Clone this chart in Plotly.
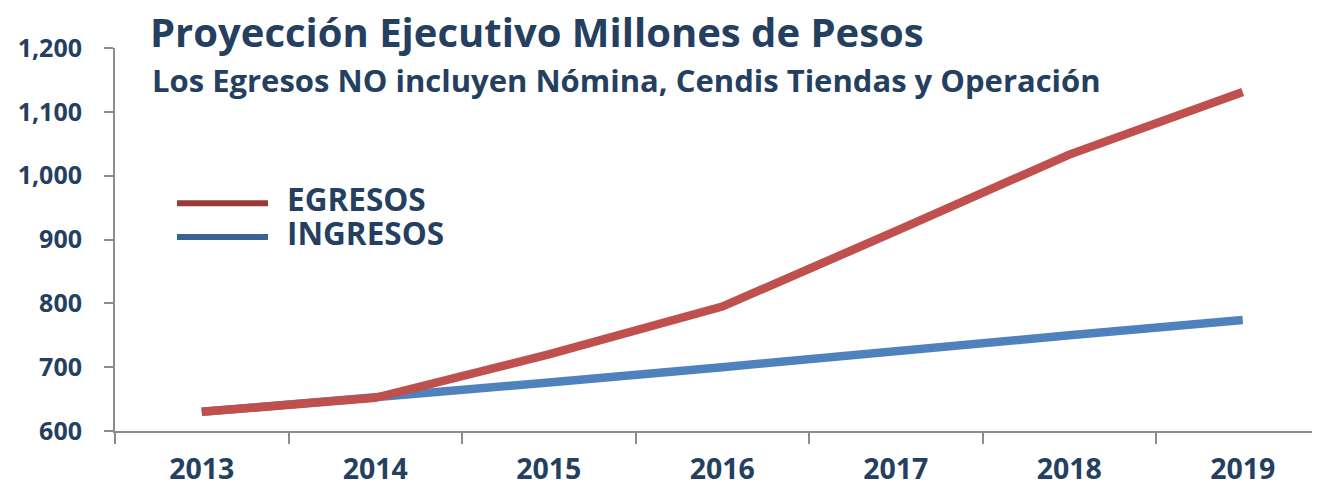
import plotly.graph_objects as go

years = ["2013", "2014", "2015", "2016", "2017", "2018", "2019"]
egresos = [630, 652, 720, 795, 913, 1033, 1131]
ingresos = [630, 652, 676, 700, 726, 750, 774]
y_ticks = [600, 700, 800, 900, 1000, 1100, 1200]
y_labels = ["600", "700", "800", "900", "1,000", "1,100", "1,200"]

RED = "#C0504D"
BLUE = "#4F81BD"
NAVY = "#243F60"
FONT = "Open Sans"

OFF = 8  # page body margin
W, H = 1320 - OFF, 495 - 2 * OFF
L, R, T, B = 115 - OFF, 0, 48 - OFF, (495 - OFF) - 433
pw = W - L - R
ph = H - T - B
cat_w = 173.5

def px(x):
    return (x - OFF - L) / pw

def py(y):
    return (H - B - (y - OFF)) / ph

fig = go.Figure()
fig.add_trace(go.Scatter(x=years, y=ingresos, mode="lines", name="INGRESOS",
                         line=dict(color=BLUE, width=8.5), showlegend=False))
fig.add_trace(go.Scatter(x=years, y=egresos, mode="lines", name="EGRESOS",
                         line=dict(color=RED, width=8.5), showlegend=False))

shapes = [
    dict(type="line", xref="paper", yref="paper", x0=px(177), x1=px(268), y0=py(204), y1=py(204),
         line=dict(color="#983A37", width=6)),
    dict(type="line", xref="paper", yref="paper", x0=px(177), x1=px(268), y0=py(238), y1=py(238),
         line=dict(color="#3B6296", width=6)),
]
annotations = [
    dict(text="<b>Los Egresos NO incluyen Nómina, Cendis Tiendas y Operación</b>", xref="paper", yref="paper",
         x=px(150), y=py(80), xanchor="left", yanchor="middle", showarrow=False,
         font=dict(family=FONT, size=31, color=NAVY)),
    dict(text="<b>EGRESOS</b>", xref="paper", yref="paper", x=px(285), y=py(199),
         xanchor="left", yanchor="middle", showarrow=False, font=dict(family=FONT, size=31.5, color=NAVY)),
    dict(text="<b>INGRESOS</b>", xref="paper", yref="paper", x=px(285), y=py(233),
         xanchor="left", yanchor="middle", showarrow=False, font=dict(family=FONT, size=31.5, color=NAVY)),
]

fig.update_layout(
    width=W, height=H,
    margin=dict(l=L, r=R, t=T, b=B),
    paper_bgcolor="white", plot_bgcolor="white",
    title=dict(text="<b>Proyección Ejecutivo Millones de Pesos</b>", x=(150 - OFF) / W, xanchor="left",
               y=1 - (33 - OFF) / H, yanchor="middle", font=dict(family=FONT, size=40, color=NAVY)),
    shapes=shapes, annotations=annotations,
    xaxis=dict(type="category", range=[-0.5, -0.5 + pw / cat_w], showgrid=False,
               showline=True, linecolor="#8C8C8C", linewidth=2,
               ticks="outside", tickson="boundaries", ticklen=11, tickcolor="#8C8C8C", tickwidth=2,
               tickfont=dict(family=FONT, size=28.5, color=NAVY), ticklabelstandoff=12),
    yaxis=dict(range=[600, 1200], tickvals=y_ticks, ticktext=[f"<b>{t}</b>" for t in y_labels],
               showgrid=False, zeroline=False, showline=True, linecolor="#8C8C8C", linewidth=2,
               ticks="outside", ticklen=9, tickcolor="#8C8C8C", tickwidth=2,
               tickfont=dict(family=FONT, size=25, color=NAVY), ticklabelstandoff=17),
)
fig.update_xaxes(ticktext=[f"<b>{y}</b>" for y in years], tickvals=years)

fig.write_html("out.html")
